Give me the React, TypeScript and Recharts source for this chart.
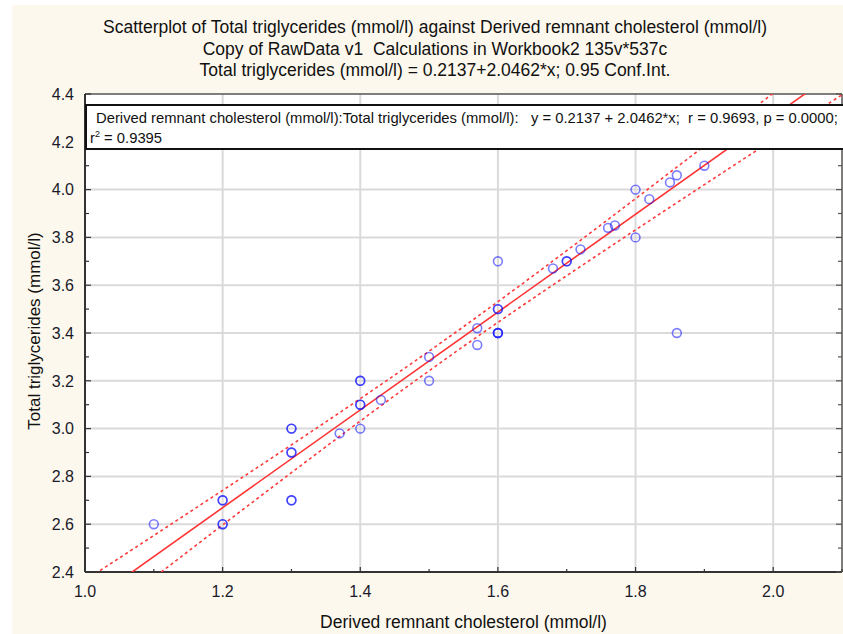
import React from "react";
import {
  ScatterChart,
  Scatter,
  XAxis,
  YAxis,
  CartesianGrid,
} from "recharts";

// Derived remnant cholesterol (x) vs total triglycerides (y).
// Heavier rings in the original are repeated observations, listed twice / three times.
const remnant = [
  1.1, 1.2, 1.2, 1.2, 1.2, 1.3, 1.3, 1.3, 1.3, 1.3, 1.3, 1.37, 1.4, 1.4, 1.4, 1.4, 1.4, 1.43,
  1.5, 1.5, 1.57, 1.57, 1.6, 1.6, 1.6, 1.6, 1.6, 1.6, 1.68, 1.7, 1.7, 1.72, 1.76, 1.77, 1.8,
  1.8, 1.82, 1.85, 1.86, 1.86, 1.9,
];
const triglycerides = [
  2.6, 2.7, 2.7, 2.6, 2.6, 3.0, 3.0, 2.9, 2.9, 2.7, 2.7, 2.98, 3.2, 3.2, 3.1, 3.1, 3.0, 3.12,
  3.3, 3.2, 3.42, 3.35, 3.7, 3.5, 3.5, 3.4, 3.4, 3.4, 3.67, 3.7, 3.7, 3.75, 3.84, 3.85, 4.0,
  3.8, 3.96, 4.03, 4.06, 3.4, 4.1,
];

// fit reported by the source
const INTERCEPT = 0.2137;
const SLOPE = 2.0462;
const T_CRIT = 2.023; // t(0.975, n-2)

const xTicks = [1.0, 1.1, 1.2, 1.3, 1.4, 1.5, 1.6, 1.7, 1.8, 1.9, 2.0, 2.1];
const yTicks = [
  2.4, 2.5, 2.6, 2.7, 2.8, 2.9, 3.0, 3.1, 3.2, 3.3, 3.4, 3.5, 3.6, 3.7, 3.8, 3.9, 4.0, 4.1,
  4.2, 4.3, 4.4,
];
const xGrid = [1.2, 1.4, 1.6, 1.8, 2.0];
const yGrid = [2.6, 2.8, 3.0, 3.2, 3.4, 3.6, 3.8, 4.0, 4.2];

const TITLE = [
  "Scatterplot of Total triglycerides (mmol/l) against Derived remnant cholesterol (mmol/l)",
  "Copy of RawData v1  Calculations in Workbook2 135v*537c",
  "Total triglycerides (mmol/l) = 0.2137+2.0462*x; 0.95 Conf.Int.",
];
const X_TITLE = "Derived remnant cholesterol (mmol/l)";
const Y_TITLE = "Total triglycerides (mmol/l)";

const PLOT_LEFT = 85;
const PLOT_RIGHT = 842;
const PLOT_TOP = 94;
const PLOT_BOTTOM = 572;

const points = remnant.map((x, i) => ({ x, y: triglycerides[i] }));

// confidence band for the mean, from the observations
const n = points.length;
const xbar = remnant.reduce((a, b) => a + b, 0) / n;
const sxx = remnant.reduce((a, x) => a + (x - xbar) ** 2, 0);
const sse = points.reduce((a, p) => a + (p.y - (INTERCEPT + SLOPE * p.x)) ** 2, 0);
const se = Math.sqrt(sse / (n - 2));

const fitLine: { x: number; y: number }[] = [];
const upper: { x: number; y: number }[] = [];
const lower: { x: number; y: number }[] = [];
for (let i = 0; i <= 110; i++) {
  const x = 1.0 + i * 0.01;
  const yh = INTERCEPT + SLOPE * x;
  const h = T_CRIT * se * Math.sqrt(1 / n + (x - xbar) ** 2 / sxx);
  if (i === 0 || i === 110) fitLine.push({ x, y: yh });
  upper.push({ x, y: yh + h });
  lower.push({ x, y: yh - h });
}

const isMajor = (v: number) => Math.round(v * 10) % 2 === 0;

const BottomTick = (props: any) => {
  const { x, payload } = props;
  const v = payload.value;
  const major = isMajor(v);
  return (
    <g>
      <line x1={x} x2={x} y1={PLOT_BOTTOM} y2={PLOT_BOTTOM - (major ? 5 : 3)} stroke="#333" strokeWidth={1.2} />
      {major && (
        <text x={x} y={597} textAnchor="middle" fontSize={16} fill="#1a1a2a">
          {v.toFixed(1)}
        </text>
      )}
    </g>
  );
};

const LeftTick = (props: any) => {
  const { y, payload } = props;
  const v = payload.value;
  const major = isMajor(v);
  return (
    <g>
      <line x1={PLOT_LEFT} x2={PLOT_LEFT + (major ? 6 : 4)} y1={y} y2={y} stroke="#333" strokeWidth={1.2} />
      {major && (
        <text x={74} y={y + 5.8} textAnchor="end" fontSize={16} fill="#1a1a2a">
          {v.toFixed(1)}
        </text>
      )}
    </g>
  );
};

const TopTick = (props: any) => {
  const { x, payload } = props;
  return (
    <line x1={x} x2={x} y1={PLOT_TOP} y2={PLOT_TOP + (isMajor(payload.value) ? 5 : 3)} stroke="#555" strokeWidth={1.2} />
  );
};

const RightTick = (props: any) => {
  const { y, payload } = props;
  return (
    <line x1={PLOT_RIGHT} x2={PLOT_RIGHT - (isMajor(payload.value) ? 6 : 4)} y1={y} y2={y} stroke="#555" strokeWidth={1.2} />
  );
};

const Ring = (props: any) => (
  <circle cx={props.cx} cy={props.cy} r={4.4} fill="none" stroke="#1010ff" strokeOpacity={0.55} strokeWidth={1.6} />
);
const NoDot = () => <g />;

export default function App() {
  return (
    <div
      style={{
        position: "absolute",
        left: 0,
        top: 0,
        width: 843,
        height: 634,
        background: "#fff",
        fontFamily: "'Liberation Sans', Arial, sans-serif",
        overflow: "hidden",
      }}
    >
      <div style={{ position: "absolute", left: 12, top: 5, right: 0, bottom: 0, background: "#fdf8ed" }} />
      {TITLE.map((t, i) => (
        <div
          key={i}
          style={{
            position: "absolute",
            left: 0,
            width: 870,
            top: 18 + i * 21.5,
            lineHeight: "18px",
            fontSize: 17.5,
            textAlign: "center",
            color: "#111",
            whiteSpace: "pre",
          }}
        >
          {t}
        </div>
      ))}
      <div style={{ position: "absolute", left: 0, top: 0 }}>
        <ScatterChart width={843} height={634} margin={{ top: 93, right: 0, bottom: 0, left: 8 }}>
          <CartesianGrid
            fill="#fff"
            stroke="#dadada"
            strokeWidth={2}
            horizontalValues={yGrid}
            verticalValues={xGrid}
          />
          <XAxis
            dataKey="x"
            type="number"
            domain={[1.0, 2.1]}
            ticks={xTicks}
            interval={0}
            allowDataOverflow
            height={62}
            tick={<BottomTick />}
            tickLine={false}
            axisLine={{ stroke: "#333", strokeWidth: 2 }}
            label={{ value: X_TITLE, position: "insideBottom", offset: 6, fill: "#111", fontSize: 17.5 }}
          />
          <XAxis
            xAxisId="top"
            orientation="top"
            type="number"
            domain={[1.0, 2.1]}
            ticks={xTicks}
            interval={0}
            allowDataOverflow
            height={1}
            tick={<TopTick />}
            tickLine={false}
            axisLine={{ stroke: "#555", strokeWidth: 1.5 }}
          />
          <YAxis
            dataKey="y"
            type="number"
            domain={[2.4, 4.4]}
            ticks={yTicks}
            interval={0}
            allowDataOverflow
            width={77}
            tick={<LeftTick />}
            tickLine={false}
            axisLine={{ stroke: "#333", strokeWidth: 2 }}
            label={{
              content: () => (
                <text x={40} y={331} transform="rotate(-90 40 331)" textAnchor="middle" fontSize={17} fill="#111">
                  {Y_TITLE}
                </text>
              ),
            }}
          />
          <YAxis
            yAxisId="right"
            orientation="right"
            type="number"
            domain={[2.4, 4.4]}
            ticks={yTicks}
            interval={0}
            allowDataOverflow
            width={1}
            tick={<RightTick />}
            tickLine={false}
            axisLine={{ stroke: "#555", strokeWidth: 1.5 }}
          />
          <Scatter
            data={upper}
            shape={<NoDot />}
            line={{ stroke: "#ff3b3b", strokeWidth: 1.6, strokeDasharray: "3 3" }}
            isAnimationActive={false}
            legendType="none"
          />
          <Scatter
            data={lower}
            shape={<NoDot />}
            line={{ stroke: "#ff3b3b", strokeWidth: 1.6, strokeDasharray: "3 3" }}
            isAnimationActive={false}
            legendType="none"
          />
          <Scatter
            data={fitLine}
            shape={<NoDot />}
            line={{ stroke: "#ff3333", strokeWidth: 1.6 }}
            isAnimationActive={false}
            legendType="none"
          />
          <Scatter data={points} shape={<Ring />} isAnimationActive={false} legendType="none" />
        </ScatterChart>
      </div>
      <div
        style={{
          position: "absolute",
          left: 85,
          top: 104,
          width: 758,
          height: 46,
          boxSizing: "border-box",
          border: "2px solid #111",
          borderRight: "none",
          background: "#fff",
          fontSize: 14.8,
          lineHeight: "20px",
          color: "#111",
          paddingTop: 2,
          whiteSpace: "pre",
          overflow: "hidden",
        }}
      >
        <div style={{ paddingLeft: 9 }}>
          {"Derived remnant cholesterol (mmol/l):Total triglycerides (mmol/l):   y = 0.2137 + 2.0462*x;  r = 0.9693, p = 0.0000;"}
        </div>
        <div style={{ paddingLeft: 3 }}>
          r<sup style={{ fontSize: 9, lineHeight: 0 }}>2</sup> = 0.9395
        </div>
      </div>
    </div>
  );
}
